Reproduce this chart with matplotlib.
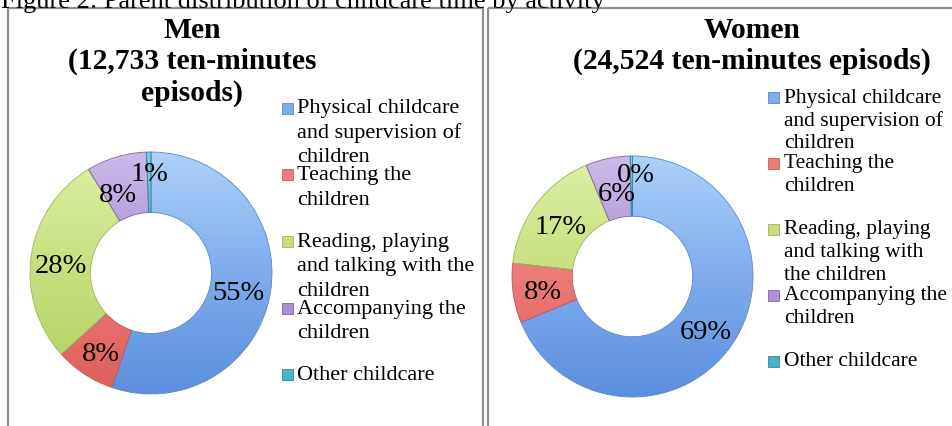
import numpy as np
import matplotlib
matplotlib.use("Agg")
import matplotlib.pyplot as plt
from matplotlib.colors import LinearSegmentedColormap
from matplotlib.patches import Rectangle

# ---- data ----
categories = ["Physical childcare and supervision of children",
              "Teaching the children",
              "Reading, playing and talking with the children",
              "Accompanying the children",
              "Other childcare"]
men_values = [55, 8, 28, 8, 0.6]
women_values = [69, 8, 17, 6, 0.3]
men_title = ["Men", "(12,733 ten-minutes", "episods)"]
women_title = ["Women", "(24,524 ten-minutes episods)"]
caption = "Figure 2: Parent distribution of childcare time by activity"
men_legend_lines = [["Physical childcare", "and supervision of", "children"],
                    ["Teaching the", "children"],
                    ["Reading, playing", "and talking with the", "children"],
                    ["Accompanying the", "children"],
                    ["Other childcare"]]
women_legend_lines = [["Physical childcare", "and supervision of", "children"],
                      ["Teaching the", "children"],
                      ["Reading, playing", "and talking with", "the children"],
                      ["Accompanying the", "children"],
                      ["Other childcare"]]

# ---- style ----
base_colors = ["#7eaced", "#ec7a76", "#c6df7e", "#ab8ed4", "#4bb0c8"]
light_colors = ["#acd1fa", "#f6aaa8", "#dcf0a4", "#ccbaea", "#7fd0e2"]
dark_colors = ["#5b8fde", "#de5e5a", "#b0d062", "#9072c2", "#3a98b0"]
edge_colors = ["#5a88c6", "#c05a56", "#9cb858", "#8262ac", "#2f8aa0"]
# pixel nudges of the percentage labels (dx right, dy down), like Excel's
men_label_nudge = [(-2, 5), (0, 5), (0, 6), (-7, 8), (0, -9)]
women_label_nudge = [(-2, 5), (0, 2), (0, 4), (3, 5), (4, -12)]

W, H = 953, 427
fig = plt.figure(figsize=(W / 100, H / 100), dpi=100)
fig.patch.set_facecolor("white")

SERIF = ["Liberation Serif", "DejaVu Serif"]

ov = fig.add_axes([0, 0, 1, 1], zorder=0)
ov.set_xlim(0, W)
ov.set_ylim(H, 0)
ov.axis("off")
ov.patch.set_alpha(0)

for x0, x1 in [(8, 483), (488, 960)]:
    ov.add_patch(Rectangle((x0, 9), x1 - x0, 440, fill=False,
                           edgecolor="#909090", linewidth=1.6, zorder=1))

ov.text(1, 8, caption, family=SERIF, fontsize=19, ha="left",
        va="baseline", color="black")

for k, ln in enumerate(men_title):
    ov.text(192, 30 + k * 31.5, ln, family=SERIF, fontsize=21.3,
            fontweight="bold", ha="center", va="center")
for k, ln in enumerate(women_title):
    ov.text(752, 30 + k * 31.5, ln, family=SERIF, fontsize=21.3,
            fontweight="bold", ha="center", va="center")


def legend(x_marker, x_text, y0, step, line_h, lines_list, fs):
    for i, lines in enumerate(lines_list):
        y = y0 + i * step
        ov.add_patch(Rectangle((x_marker, y - 5.5), 11, 11,
                               facecolor=base_colors[i],
                               edgecolor=edge_colors[i], linewidth=0.6,
                               zorder=2))
        for k, ln in enumerate(lines):
            ov.text(x_text, y + k * line_h, ln, family=SERIF, fontsize=fs,
                    ha="left", va="center", color="black", zorder=3)


legend(282, 297, 109, 66.7, 24.5, men_legend_lines, 16)
legend(768, 784, 98, 66, 22.8, women_legend_lines, 15.5)


def donut(rect, values, nudges, size_px):
    ax = fig.add_axes(rect, zorder=2)
    wedges, texts, autotexts = ax.pie(
        values, colors=base_colors, startangle=90, counterclock=False,
        radius=1, autopct="%.0f%%", pctdistance=0.75,
        wedgeprops=dict(width=0.5, edgecolor="none"),
        textprops=dict(family=SERIF, fontsize=20.5, color="black"))
    grad = np.linspace(0, 1, 256).reshape(-1, 1)
    for i, w in enumerate(wedges):
        cmap = LinearSegmentedColormap.from_list(
            "g%d" % i, [dark_colors[i], base_colors[i], light_colors[i]])
        im = ax.imshow(grad, extent=(-1, 1, -1, 1), origin="lower",
                       cmap=cmap, aspect="auto", zorder=2,
                       interpolation="bilinear")
        im.set_clip_path(w)
        w.set_facecolor("none")
        w.set_edgecolor(edge_colors[i])
        w.set_linewidth(0.6)
        w.set_zorder(3)
    s = 2.0 / size_px
    for t, (dx, dy) in zip(autotexts, nudges):
        x, y = t.get_position()
        t.set_position((x + dx * s, y - dy * s))
        t.set_zorder(5)
    ax.set_xlim(-1, 1)
    ax.set_ylim(-1, 1)
    ax.set_aspect("equal")
    ax.axis("off")
    return ax


donut([30 / W, (H - 395) / H, 242 / W, 242 / H], men_values,
      men_label_nudge, 242)
donut([512 / W, (H - 398) / H, 241 / W, 241 / H], women_values,
      women_label_nudge, 241)

fig.savefig("out.png", dpi=100, facecolor="white")
